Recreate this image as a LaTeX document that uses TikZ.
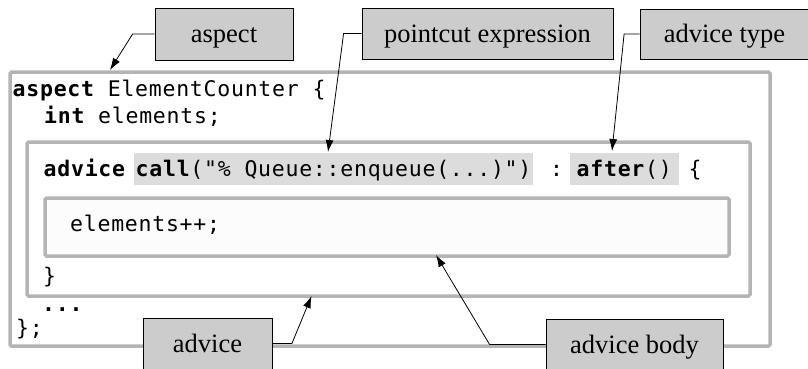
\documentclass[tikz,border=0pt]{standalone}
\usepackage{fontspec}
\setmainfont{Liberation Serif}
\newfontfamily\codefont{DejaVu Sans Mono}[LetterSpace=3.5]
\usetikzlibrary{arrows.meta}
\definecolor{frameGray}{HTML}{B4B4B4}
\definecolor{labelGray}{HTML}{CCCCCC}
\definecolor{hiliteGray}{HTML}{DCDCDC}
\definecolor{bodyFill}{HTML}{FCFCFC}
\tikzset{
  frame/.style={draw=frameGray, line width=3.5pt, rounded corners=1.5pt},
  hilite/.style={fill=hiliteGray},
  code/.style={anchor=base west, inner sep=0pt, font=\codefont\fontsize{21.5}{26}\selectfont},
  callout/.style={draw=black, fill=labelGray, line width=0.8pt, inner sep=0pt,
    text height=19pt, text depth=2pt, font=\fontsize{26.5}{30}\selectfont},
  pointer/.style={draw=black, line width=0.8pt, -{Latex[length=12pt,width=8pt]}},
}
\begin{document}
\begin{tikzpicture}[x=1pt,y=-1pt]
\useasboundingbox (0,0) rectangle (808,368);
\clip (0,0) rectangle (808,368);

% nested scopes: aspect, advice, advice body
\draw[frame] (10,72) rectangle (770,346);
\draw[frame] (27,142) rectangle (750,296);
\draw[frame, fill=bodyFill] (45,198) rectangle (729,256);

% highlighted pointcut and advice type
\fill[hilite] (134,153) rectangle (533,185);
\fill[hilite] (570,153) rectangle (679,185);

% source code
\node[code] (codeA) at (12.5,96) {\bfseries aspect\mdseries{} ElementCounter \{};
\node[code] (codeB) at (44,123) {\bfseries int\mdseries{} elements;};
\node[code] (codeC) at (43.5,176) {\bfseries advice};
\node[code] (codeD) at (135.5,176) {\textbf{call}("\% Queue::enqueue(...)")};
\node[code] (codeE) at (550,176) {:};
\node[code] (codeF) at (576.5,176) {\textbf{after}()};
\node[code] (codeG) at (688.5,176) {\{};
\node[code] (codeH) at (70,231) {elements++;};
\node[code] (codeI) at (43,283) {\}};
\node[code] (codeJ) at (42,311) {\bfseries ...};
\node[code] (codeK) at (16,335) {\};};

% callout labels
\node[callout, minimum width=138pt, minimum height=52pt] (lblAspect) at (224,34) {aspect};
\node[callout, minimum width=251pt, minimum height=51pt] (lblPointcut) at (487.5,33.5) {pointcut expression};
\node[callout, minimum width=169pt, minimum height=50pt] (lblType) at (724.5,34) {advice type};
\node[callout, minimum width=129pt, minimum height=51pt] (lblAdvice) at (207.5,343.5) {advice};
\node[callout, minimum width=177pt, minimum height=51pt] (lblBody) at (634.5,344.5) {advice body};

% pointers
\coordinate (tipAspect) at (110,70);
\coordinate (tipPointcut) at (328,152);
\coordinate (tipType) at (612,151);
\coordinate (tipAdvice) at (311.5,296);
\coordinate (tipBody) at (436,255);

\draw[pointer] (lblAspect.west) -- ++(-22,0) -- (tipAspect);
\draw[pointer] (lblPointcut.west) -- ++(-18,0) -- (tipPointcut);
\draw[pointer] (lblType.west) -- ++(-15.5,0) -- (tipType);
\draw[pointer] (lblAdvice.east) -- ++(19.5,0) -- (tipAdvice);
\draw[pointer] (lblBody.west) -- ++(-56,0) -- (tipBody);
\end{tikzpicture}
\end{document}
